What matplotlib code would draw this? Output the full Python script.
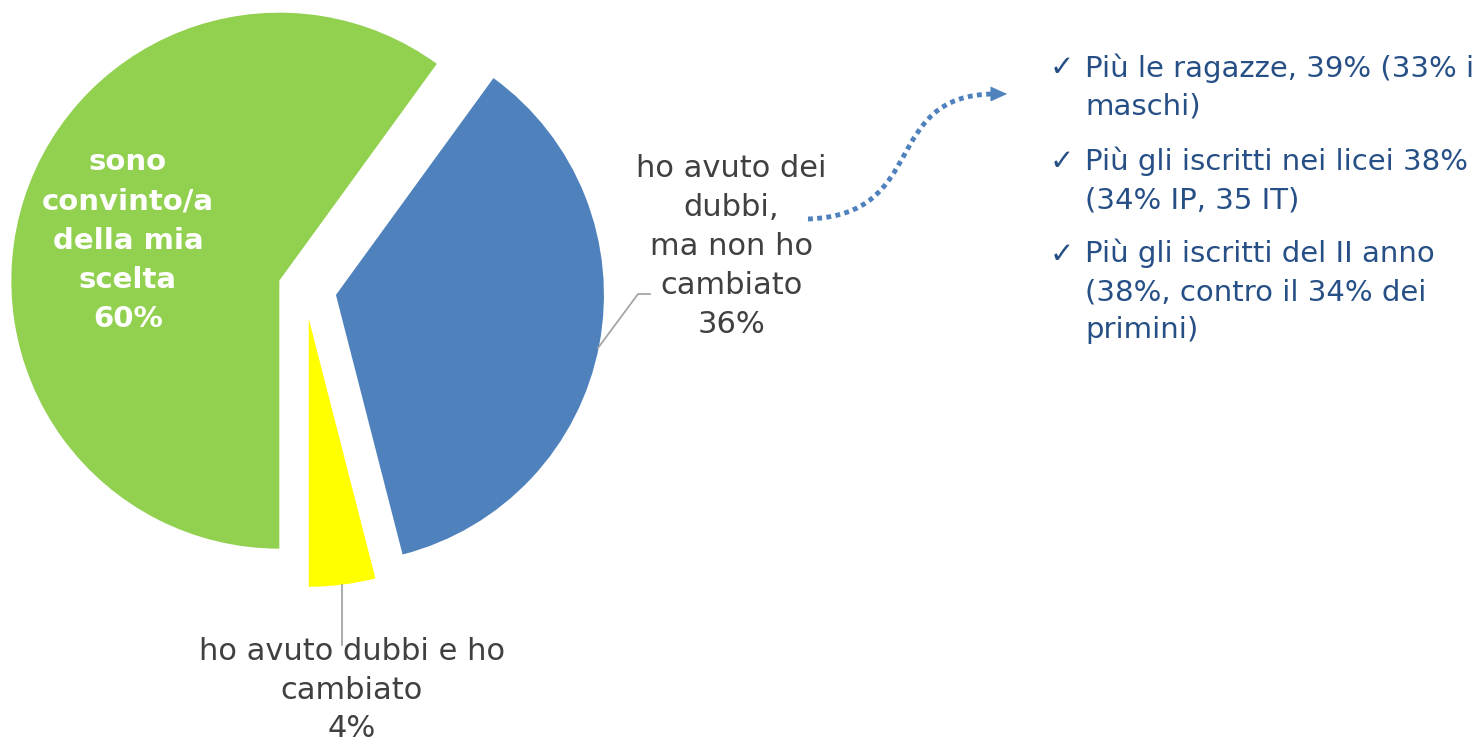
import matplotlib.pyplot as plt
from matplotlib.path import Path
from matplotlib.patches import FancyArrowPatch

# data
labels = ["sono\nconvinto/a\ndella mia\nscelta", "ho avuto dei\ndubbi,\nma non ho\ncambiato", "ho avuto dubbi e ho\ncambiato"]
values = [60, 36, 4]
colors = ["#92D050", "#4F81BD", "#FFFF00"]
notes = [
    "Più le ragazze, 39% (33% i\nmaschi)",
    "Più gli iscritti nei licei 38%\n(34% IP, 35 IT)",
    "Più gli iscritti del II anno\n(38%, contro il 34% dei\nprimini)",
]

W, H = 1477, 741
gray = "#404040"
navy = "#264F86"

fig = plt.figure(figsize=(W / 100, H / 100), dpi=100)
ax = fig.add_axes([0, 0, 1, 1])

# pixel coords, y measured from top
def Y(y):
    return H - y

ax.pie(values, colors=colors, startangle=-90, counterclock=False,
       explode=[27, 31.5, 30], radius=268, center=(305, Y(289)),
       wedgeprops=dict(linewidth=0))
ax.set_xlim(0, W)
ax.set_ylim(0, H)
ax.set_aspect("equal")
ax.axis("off")

# slice labels (va=baseline -> last line baseline)
ax.text(128, Y(327), f"{labels[0]}\n{values[0]}%", color="white", fontsize=21,
        fontweight="bold", ha="center", va="baseline", linespacing=1.51)
ax.text(731, Y(333), f"{labels[1]}\n{values[1]}%", color=gray, fontsize=22,
        ha="center", va="baseline", linespacing=1.44)
ax.text(352, Y(737), f"{labels[2]}\n{values[2]}%", color=gray, fontsize=22,
        ha="center", va="baseline", linespacing=1.41)

# leader lines
ax.plot([598, 638, 650], [Y(348), Y(294), Y(294)], color="#A6A6A6", lw=1.3)
ax.plot([342, 342], [Y(585), Y(645)], color="#A6A6A6", lw=1.3)

# dotted curved arrow
path = Path([(808, Y(219)), (930, Y(215)), (880, Y(95)), (994, Y(94))],
            [Path.MOVETO, Path.CURVE4, Path.CURVE4, Path.CURVE4])
curve = FancyArrowPatch(path=path, arrowstyle="-", color="#4F81BD", lw=3.5,
                        linestyle=(0, (1, 0.9)), capstyle="butt")
ax.add_patch(curve)
ax.annotate("", xy=(1007, Y(94)), xytext=(992, Y(94)),
            arrowprops=dict(arrowstyle="-|>,head_length=11,head_width=5",
                            color="#4F81BD", lw=0.5, mutation_scale=1,
                            shrinkA=0, shrinkB=0))

# notes on the right: first-line baseline, last-line baseline
note_first = [76, 170, 263]
note_last = [115, 208, 338]
for txt, y0, y1 in zip(notes, note_first, note_last):
    ax.text(1085, Y(y1), txt, color=navy, fontsize=21, ha="left", va="baseline",
            linespacing=1.45)
    ax.text(1050, Y(y0), "✓", color=navy, fontsize=21, fontweight="bold",
            ha="left", va="baseline")

fig.savefig("out.png", dpi=100)
